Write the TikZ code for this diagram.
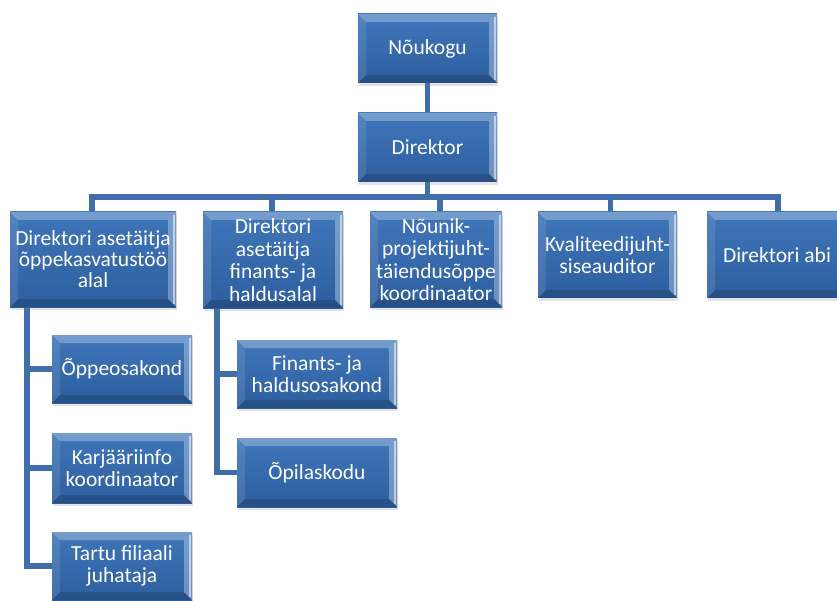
\documentclass[tikz,border=0pt]{standalone}
\usepackage{fontspec}
\setmainfont{Carlito}
\usetikzlibrary{backgrounds,shadows}
\definecolor{boxtop}{HTML}{3F76BA}
\definecolor{boxbot}{HTML}{2E5F9F}
\definecolor{connblue}{HTML}{3F6EA8}
\tikzset{
  box/.style={rectangle, top color=boxtop, bottom color=boxbot, draw=none,
    text=white, align=center, inner sep=2pt,
    font=\fontsize{21.5}{22.5}\selectfont,
    drop shadow={opacity=0.22, shadow xshift=1pt, shadow yshift=-3pt},
    path picture={
      \coordinate (pnw) at (path picture bounding box.north west);
      \coordinate (pne) at (path picture bounding box.north east);
      \coordinate (psw) at (path picture bounding box.south west);
      \coordinate (pse) at (path picture bounding box.south east);
      \fill[white, opacity=0.28] (pnw) -- (pne) -- ([shift={(-8pt,-8pt)}]pne) -- ([shift={(8pt,-8pt)}]pnw) -- cycle;
      \fill[white, opacity=0.10] (pnw) -- ([shift={(8pt,-8pt)}]pnw) -- ([shift={(8pt,8pt)}]psw) -- (psw) -- cycle;
      \fill[white, opacity=0.30] (pne) -- (pse) -- ([shift={(-8pt,8pt)}]pse) -- ([shift={(-8pt,-8pt)}]pne) -- cycle;
      \fill[white, opacity=0.55] ([shift={(-1pt,-3pt)}]pne) rectangle ([shift={(-3pt,3pt)}]pse);
      \fill[black, opacity=0.16] (psw) -- ([shift={(8pt,8pt)}]psw) -- ([shift={(-8pt,8pt)}]pse) -- (pse) -- cycle;
    }},
  conn/.style={draw=connblue, line width=5.5pt, line join=miter}
}
\begin{document}
\begin{tikzpicture}[x=1pt, y=-1pt]
\useasboundingbox (0,0) rectangle (837,601);

\node[box, minimum width=139pt, minimum height=69pt] (nouk) at (427.5,48.5) {Nõukogu};
\node[box, minimum width=139pt, minimum height=69pt] (dir) at (427.5,147.5) {Direktor};

\node[box, minimum width=166pt, minimum height=95pt, font=\fontsize{21.5}{21}\selectfont] (a1) at (93,259.5) {Direktori asetäitja\\õppekasvatustöö\\alal};
\node[box, minimum width=140pt, minimum height=96pt] (a2) at (273,260) {Direktori\\asetäitja\\finants- ja\\haldusalal};
\node[box, minimum width=132pt, minimum height=95pt] (a3) at (436,259.5) {Nõunik-\\projektijuht-\\täiendusõppe\\koordinaator};
\node[box, minimum width=139pt, minimum height=86pt] (a4) at (607.5,255) {Kvaliteedijuht-\\siseauditor};
\node[box, minimum width=140pt, minimum height=86pt] (a5) at (777,255) {Direktori abi};

\node[box, minimum width=140pt, minimum height=68pt] (b1) at (122,369) {Õppeosakond};
\node[box, minimum width=140pt, minimum height=70pt] (b2) at (122,468) {Karjääriinfo\\koordinaator};
\node[box, minimum width=140pt, minimum height=68pt] (b3) at (122,566) {Tartu filiaali\\juhataja};

\node[box, minimum width=160pt, minimum height=68pt] (c1) at (317,374) {Finants- ja\\haldusosakond};
\node[box, minimum width=160pt, minimum height=69pt] (c2) at (317,472.5) {Õpilaskodu};

\begin{scope}[on background layer]
\fill[white] (0,0) rectangle (837,601);
\draw[conn] (nouk.south) -- (dir.north);
\draw[conn] (dir.south) -- ++(0,15) -| ([xshift=-1pt]a1.north);
\draw[conn] (dir.south) -- ++(0,15) -| ([xshift=-1pt]a2.north);
\draw[conn] (dir.south) -- ++(0,15) -| ([xshift=4pt]a3.north);
\draw[conn] (dir.south) -- ++(0,15) -| ([xshift=3pt]a4.north);
\draw[conn] (dir.south) -- ++(0,15) -| ([xshift=1pt]a5.north);
\draw[conn] ([xshift=17pt]a1.south west) |- (b1.west);
\draw[conn] ([xshift=17pt]a1.south west) |- (b2.west);
\draw[conn] ([xshift=17pt]a1.south west) |- (b3.west);
\draw[conn] ([xshift=14pt]a2.south west) |- (c1.west);
\draw[conn] ([xshift=14pt]a2.south west) |- (c2.west);
\end{scope}
\end{tikzpicture}
\end{document}
